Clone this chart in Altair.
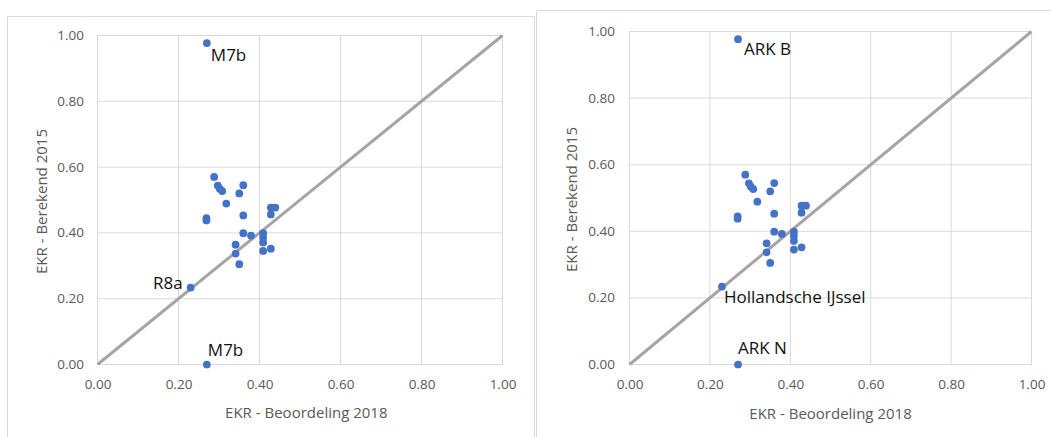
import altair as alt
import pandas as pd

# EKR per water body: assessment 2018 (x) against the value computed for 2015 (y)
ekr_2018 = [0.270, 0.288, 0.297, 0.302, 0.308, 0.360, 0.350, 0.318, 0.269, 0.269,
            0.360, 0.428, 0.439, 0.428, 0.360, 0.379, 0.409, 0.409, 0.409, 0.428,
            0.409, 0.341, 0.341, 0.350, 0.230, 0.270]
ekr_2015 = [0.977, 0.570, 0.544, 0.534, 0.527, 0.545, 0.520, 0.489, 0.445, 0.438,
            0.453, 0.477, 0.477, 0.456, 0.399, 0.392, 0.399, 0.386, 0.371, 0.352,
            0.345, 0.364, 0.337, 0.305, 0.234, 0.000]

# axis ticks / gridlines (same on both axes)
tick_values = [0.0, 0.2, 0.4, 0.6, 0.8, 1.0]

# labelled points (index into the series) and their names per panel
label_index = [0, 24, 25]
names_left = ["M7b", "R8a", "M7b"]
names_right = ["ARK B", "Hollandsche IJssel", "ARK N"]

FONT = "Open Sans"
GRID = "#D9D9D9"
AXIS_TEXT = "#595959"
POINT = "#4472C4"
DIAG = "#A5A5A5"
W, H = 1051, 437

points_df = pd.DataFrame({"x": ekr_2018, "y": ekr_2015})


def panel(x_range, y_range, y_label_pad, x_title_x, x_title_y, y_title_x, y_title_y, names, styles):
    x_axis = alt.Axis(
        orient="bottom", offset=-(H - y_range[0]), values=tick_values, format=".2f",
        grid=False, domain=False, ticks=False, tickSize=0, labelFlush=False, labelOverlap=False,
        labelFont=FONT, labelFontSize=13.5, labelColor=AXIS_TEXT, labelPadding=20,
        labelBaseline="middle",
        title="EKR - Beoordeling 2018", titleFont=FONT, titleFontSize=15,
        titleFontWeight="normal", titleColor=AXIS_TEXT, titleX=x_title_x, titleY=x_title_y,
        titleBaseline="alphabetic", titleAlign="center",
    )
    y_axis = alt.Axis(
        orient="left", offset=-x_range[0], values=tick_values, format=".2f",
        grid=False, domain=False, ticks=False, tickSize=0, labelFlush=False, labelOverlap=False,
        labelFont=FONT, labelFontSize=13.5, labelColor=AXIS_TEXT, labelPadding=y_label_pad,
        title="EKR - Berekend 2015", titleFont=FONT, titleFontSize=15,
        titleFontWeight="normal", titleColor=AXIS_TEXT, titleX=y_title_x, titleY=y_title_y,
        titleBaseline="alphabetic", titleAlign="center", titleAngle=270,
    )
    xenc = alt.X("x:Q", scale=alt.Scale(domain=[0, 1], range=list(x_range), nice=False, zero=False), axis=x_axis)
    yenc = alt.Y("y:Q", scale=alt.Scale(domain=[0, 1], range=list(y_range), nice=False, zero=False), axis=y_axis)

    n = len(tick_values)
    vgrid = alt.Chart(pd.DataFrame({"x": tick_values, "y": [0.0] * n, "y2": [1.0] * n})).mark_rule(
        color=GRID, strokeWidth=1).encode(x=xenc, y=yenc, y2="y2:Q")
    hgrid = alt.Chart(pd.DataFrame({"y": tick_values, "x": [0.0] * n, "x2": [1.0] * n})).mark_rule(
        color=GRID, strokeWidth=1).encode(x=xenc, x2="x2:Q", y=yenc)
    diag = alt.Chart(pd.DataFrame({"x": [0.0, 1.0], "y": [0.0, 1.0]})).mark_line(
        color=DIAG, strokeWidth=3).encode(x=xenc, y=yenc)
    pts = alt.Chart(points_df).mark_circle(size=60, color=POINT, opacity=1).encode(x=xenc, y=yenc)

    texts = []
    for idx, name, (align, dx, dy) in zip(label_index, names, styles):
        df = pd.DataFrame({"x": [ekr_2018[idx]], "y": [ekr_2015[idx]], "t": [name]})
        texts.append(
            alt.Chart(df).mark_text(align=align, baseline="middle", dx=dx, dy=dy, font=FONT,
                                    fontSize=17, color="#111111").encode(x=xenc, y=yenc, text="t:N")
        )
    return alt.layer(vgrid, hgrid, diag, pts, *texts)


left = panel((97.5, 502.5), (364.5, 35.5), 14, 305.8, 53, -51.5, 201,
             names_left, [("left", 4, 12.5), ("right", -8, -4), ("left", 1, -14)])
right = panel((629.5, 1031.5), (364.5, 31.5), 15, 830, 53.5, -53, 199,
              names_right, [("left", 6, 11), ("left", 2, 11), ("left", 0, -15.5)])

one = pd.DataFrame({"k": [0]})
frame_left = alt.Chart(one).mark_rect(fillOpacity=0, stroke=GRID, strokeWidth=1).encode(
    x=alt.value(7.5), x2=alt.value(534.5), y=alt.value(16.5), y2=alt.value(445))
frame_right = alt.Chart(one).mark_rect(fillOpacity=0, stroke=GRID, strokeWidth=1).encode(
    x=alt.value(536.5), x2=alt.value(1060), y=alt.value(10.5), y2=alt.value(445))

chart = alt.layer(frame_left, frame_right, left, right).resolve_scale(
    x="independent", y="independent"
).properties(
    width=W, height=H, padding=0, autosize=alt.AutoSizeParams(type="none"), background="white"
).configure_view(strokeWidth=0)

chart.save("out.html", embed_options={"renderer": "svg", "actions": False})
